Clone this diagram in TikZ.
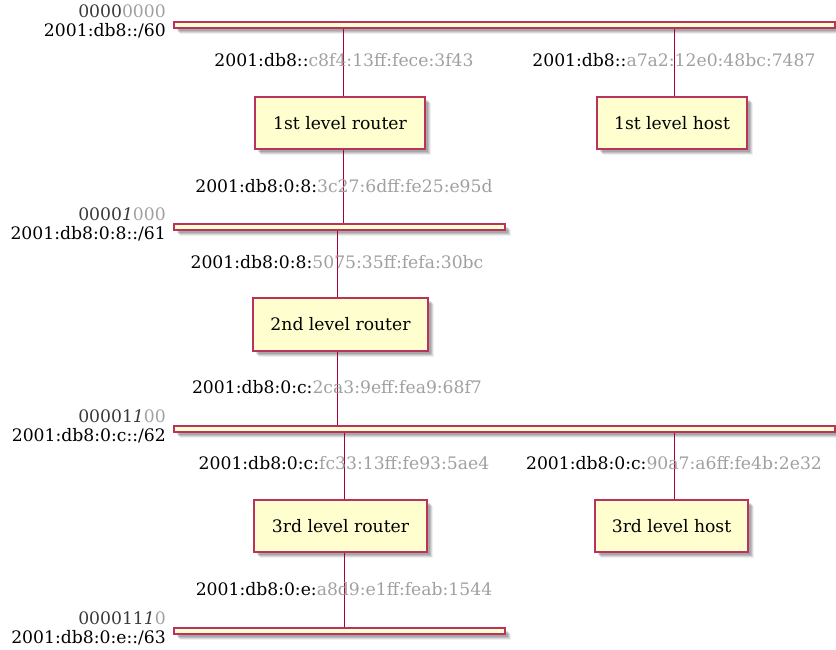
\documentclass[tikz,border=0pt]{standalone}
\usepackage{fontspec}
\setmainfont{DejaVu Serif}
\usetikzlibrary{shadows}
\definecolor{brd}{HTML}{A80036}
\definecolor{fil}{HTML}{FEFECE}
\definecolor{lg}{HTML}{A0A0A0}
\definecolor{dg}{HTML}{3A3A3A}
\tikzset{
  softshadow/.style={
    drop shadow={shadow xshift=6pt, shadow yshift=-6pt, fill=black, opacity=0.06},
    drop shadow={shadow xshift=5pt, shadow yshift=-5pt, fill=black, opacity=0.10},
    drop shadow={shadow xshift=4pt, shadow yshift=-4pt, fill=black, opacity=0.12},
    drop shadow={shadow xshift=3pt, shadow yshift=-3pt, fill=black, opacity=0.12}},
  box/.style={draw=brd!80!white, fill=fil, line width=1.4pt, minimum height=52pt, inner sep=0pt,
    font=\fontsize{17.2}{19}\selectfont, softshadow},
  netbar/.style={draw=brd!80!white, fill=fil, line width=1.4pt, minimum height=6pt, inner sep=0pt,
    softshadow},
  link/.style={draw=brd, line width=0.8pt},
  addr/.style={font=\fontsize{17.2}{19}\selectfont, inner sep=0pt},
  netlbl/.style={font=\fontsize{17.2}{19}\selectfont, align=right, anchor=east, inner sep=0pt}
}
\newcommand{\gtx}[1]{\textcolor{lg}{#1}}
\newcommand{\dtx}[1]{\textcolor{dg}{#1}}
\begin{document}
\begin{tikzpicture}[x=1pt,y=-1pt]
\useasboundingbox (0,0) rectangle (836,649);

% networks
\node[netbar, minimum width=661pt] (n1) at (504.5,25) {};
\node[netbar, minimum width=331pt] (n2) at (339.5,227) {};
\node[netbar, minimum width=661pt] (n3) at (504.5,429) {};
\node[netbar, minimum width=331pt] (n4) at (339.5,631) {};

\node[netlbl] (l1) at (166,21.5) {\dtx{0000}\gtx{0000}\\2001:db8::/60};
\node[netlbl] (l2) at (166,224.5) {\dtx{0000\textit{1}}\gtx{000}\\2001:db8:0:8::/61};
\node[netlbl] (l3) at (166,426.5) {\dtx{00001\textit{1}}\gtx{00}\\2001:db8:0:c::/62};
\node[netlbl] (l4) at (166,628.5) {\dtx{000011\textit{1}}\gtx{0}\\2001:db8:0:e::/63};

% devices
\node[box, minimum width=170pt] (r1) at (340,123) {1st level router};
\node[box, minimum width=150pt] (h1) at (672,123) {1st level host};
\node[box, minimum width=175pt, minimum height=53pt] (r2) at (340.5,324.5) {2nd level router};
\node[box, minimum width=173pt] (r3) at (340.5,526) {3rd level router};
\node[box, minimum width=153pt] (h3) at (671.5,526) {3rd level host};

% connectors
\draw[link] ([xshift=3pt]r1.north) -- ([xshift=3pt]r1.north |- n1.south);
\draw[link] ([xshift=3pt]r1.south) -- ([xshift=3pt]r1.south |- n2.north);
\draw[link] ([xshift=2pt]h1.north) -- ([xshift=2pt]h1.north |- n1.south);
\draw[link] ([xshift=-3.5pt]r2.north) -- ([xshift=-3.5pt]r2.north |- n2.south);
\draw[link] ([xshift=-3.5pt]r2.south) -- ([xshift=-3.5pt]r2.south |- n3.north);
\draw[link] ([xshift=3.5pt]r3.north) -- ([xshift=3.5pt]r3.north |- n3.south);
\draw[link] ([xshift=3.5pt]r3.south) -- ([xshift=3.5pt]r3.south |- n4.north);
\draw[link] ([xshift=2.5pt]h3.north) -- ([xshift=2.5pt]h3.north |- n3.south);

% addresses
\node[addr] (a1) at (344,60) {2001:db8::\gtx{c8f4:13ff:fece:3f43}};
\node[addr] (a2) at (674,60) {2001:db8::\gtx{a7a2:12e0:48bc:7487}};
\node[addr] (a3) at (344,186) {2001:db8:0:8:\gtx{3c27:6dff:fe25:e95d}};
\node[addr] (a4) at (337,262) {2001:db8:0:8:\gtx{5075:35ff:fefa:30bc}};
\node[addr] (a5) at (337,387) {2001:db8:0:c:\gtx{2ca3:9eff:fea9:68f7}};
\node[addr] (a6) at (344,463) {2001:db8:0:c:\gtx{fc33:13ff:fe93:5ae4}};
\node[addr] (a7) at (674,463) {2001:db8:0:c:\gtx{90a7:a6ff:fe4b:2e32}};
\node[addr] (a8) at (344,589) {2001:db8:0:e:\gtx{a8d9:e1ff:feab:1544}};
\end{tikzpicture}
\end{document}
